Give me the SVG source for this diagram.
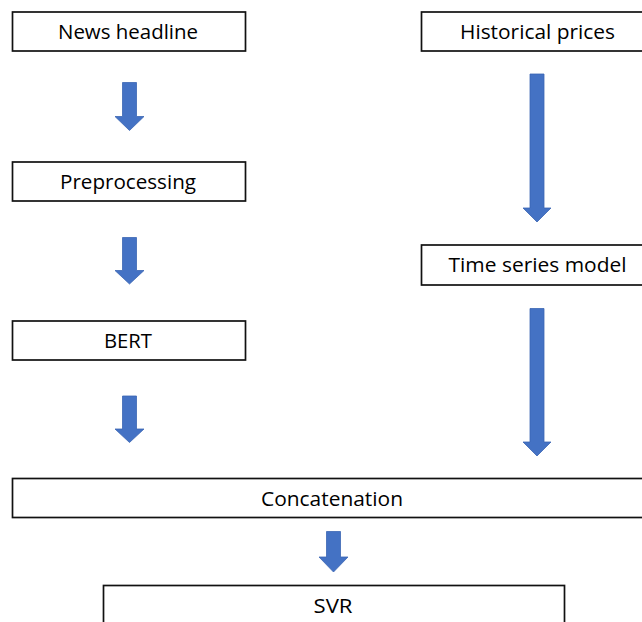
<svg xmlns="http://www.w3.org/2000/svg" width="642" height="622" viewBox="0 0 642 622">
  <style>
    .box { fill: #ffffff; stroke: #111111; stroke-width: 1.7; }
    .label { font-family: "Open Sans", "Noto Sans", "Liberation Sans", sans-serif; font-size: 20px; fill: #000000; text-anchor: middle; }
    .arrow { fill: #4472C4; stroke: #3B66B4; stroke-width: 0.8; stroke-linejoin: miter; }
  </style>
  <rect width="642" height="622" fill="#ffffff"/>

  <!-- left column: text pipeline -->
  <g id="news-headline">
    <rect class="box" x="12.5" y="12" width="233" height="39"/>
    <text class="label" x="128" y="38.5" textLength="140" lengthAdjust="spacingAndGlyphs">News headline</text>
  </g>
  <g id="preprocessing">
    <rect class="box" x="12.5" y="162" width="233" height="39"/>
    <text class="label" x="128" y="188.5" textLength="136" lengthAdjust="spacingAndGlyphs">Preprocessing</text>
  </g>
  <g id="bert">
    <rect class="box" x="12.5" y="321" width="233" height="39"/>
    <text class="label" x="128" y="348" textLength="48" lengthAdjust="spacingAndGlyphs">BERT</text>
  </g>

  <!-- right column: price pipeline -->
  <g id="historical-prices">
    <rect class="box" x="421.5" y="12" width="233" height="39"/>
    <text class="label" x="537.5" y="38.5" textLength="155" lengthAdjust="spacingAndGlyphs">Historical prices</text>
  </g>
  <g id="time-series-model">
    <rect class="box" x="421.5" y="245" width="233" height="40"/>
    <text class="label" x="537.5" y="272" textLength="178" lengthAdjust="spacingAndGlyphs">Time series model</text>
  </g>

  <!-- merge and regression -->
  <g id="concatenation">
    <rect class="box" x="12.5" y="478.5" width="640" height="39"/>
    <text class="label" x="332" y="505.5" textLength="142" lengthAdjust="spacingAndGlyphs">Concatenation</text>
  </g>
  <g id="svr">
    <rect class="box" x="103.5" y="585.5" width="461" height="50"/>
    <text class="label" x="333" y="613" textLength="39" lengthAdjust="spacingAndGlyphs">SVR</text>
  </g>

  <!-- block arrows between stages -->
  <g id="connectors">
    <polygon class="arrow" points="122.5,82.5 136.5,82.5 136.5,116.5 144,116.5 129.5,130.5 115,116.5 122.5,116.5"/>
    <polygon class="arrow" points="122.5,237.5 136.5,237.5 136.5,270.5 144,270.5 129.5,284 115,270.5 122.5,270.5"/>
    <polygon class="arrow" points="122.5,396 136.5,396 136.5,429 144,429 129.5,442.5 115,429 122.5,429"/>
    <polygon class="arrow" points="530,74 544,74 544,208 551,208 537,222 523,208 530,208"/>
    <polygon class="arrow" points="530,308.5 544,308.5 544,442 551,442 537,456 523,442 530,442"/>
    <polygon class="arrow" points="326.5,531.5 340.5,531.5 340.5,557 348,557 333.5,572 319,557 326.5,557"/>
  </g>
</svg>
